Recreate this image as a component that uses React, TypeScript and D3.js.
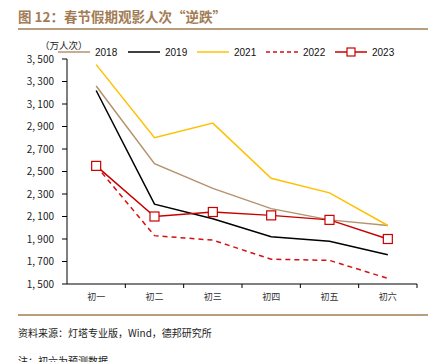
import * as React from 'react';
import * as d3 from 'd3';

const categories = ['初一', '初二', '初三', '初四', '初五', '初六'];
const years = ['2018', '2019', '2021', '2022', '2023'];
const v2018 = [3260, 2570, 2350, 2170, 2070, 2020];
const v2019 = [3220, 2210, 2080, 1920, 1880, 1760];
const v2021 = [3450, 2800, 2930, 2440, 2310, 2020];
const v2022 = [2550, 1930, 1890, 1720, 1710, 1550];
const v2023 = [2550, 2100, 2140, 2110, 2070, 1900];
const yTicks = [1500, 1700, 1900, 2100, 2300, 2500, 2700, 2900, 3100, 3300, 3500];

const seriesValues = [v2018, v2019, v2021, v2022, v2023];
const colors = ['#b4926c', '#000000', '#ffc000', '#d41010', '#c80000'];

const W = 438;
const H = 362;
const FONT = '"Noto Sans CJK SC", "Noto Sans", sans-serif';

const App: React.FC = () => {
  const x = d3.scaleBand().domain(categories).range([67, 417]);
  const y = d3.scaleLinear().domain([1500, 3500]).range([284, 59]);
  const cx = (c: string) => x(c)! + x.bandwidth() / 2;

  const line = d3.line<number>()
    .x((_, i) => cx(categories[i]))
    .y(d => y(d));

  const legendX = [58, 128, 197, 266, 335];

  return (
    <svg width={W} height={H} style={{ position: 'absolute', left: 0, top: 0, background: '#fff' }} fontFamily={FONT}>
      <text x={18} y={22} fontSize={13.5} fontWeight="bold" fill="#a27c55">图 12：春节假期观影人次“逆跌”</text>
      <line x1={18} x2={428} y1={29} y2={29} stroke="#a27c55" strokeWidth={1.5} />

      <text x={40} y={49} fontSize={9.5} fill="#222">（万人次）</text>

      {/* legend */}
      {years.map((yr, i) => (
        <g key={yr}>
          <line x1={legendX[i]} x2={legendX[i] + 32} y1={52} y2={52}
            stroke={colors[i]} strokeWidth={1.5}
            strokeDasharray={i === 3 ? '4,3' : undefined} />
          {i === 4 && <rect x={legendX[i] + 12} y={48} width={8} height={8} fill="#fff" stroke={colors[i]} strokeWidth={1.2} />}
          <text x={legendX[i] + 37} y={56} fontSize={10} fill="#111" fontFamily="Arial, 'Liberation Sans', sans-serif">{yr}</text>
        </g>
      ))}

      {/* y axis */}
      <line x1={67} x2={67} y1={y(3500)} y2={y(1500)} stroke="#000" strokeWidth={1} />
      {yTicks.map(t => (
        <g key={t}>
          <line x1={62} x2={67} y1={y(t)} y2={y(t)} stroke="#000" />
          <text x={54} y={y(t)} dy="0.35em" textAnchor="end" fontSize={10} fill="#222">{d3.format(',')(t).replace(',', ', ')}</text>
        </g>
      ))}

      {/* x axis */}
      <line x1={67} x2={417} y1={284} y2={284} stroke="#000" strokeWidth={1} />
      {categories.map(c => (
        <g key={c}>
          <line x1={x(c)! + x.bandwidth()} x2={x(c)! + x.bandwidth()} y1={284} y2={288} stroke="#000" />
          <text x={cx(c)} y={300} textAnchor="middle" fontSize={9} fill="#333">{c}</text>
        </g>
      ))}

      {/* series */}
      {seriesValues.map((vals, i) => (
        <path key={years[i]} d={line(vals)!} fill="none" stroke={colors[i]} strokeWidth={1.5}
          strokeDasharray={i === 3 ? '5,4' : undefined} />
      ))}
      {v2023.map((v, i) => (
        <rect key={i} x={cx(categories[i]) - 4.5} y={y(v) - 4.5} width={9} height={9}
          fill="#fff" stroke={colors[4]} strokeWidth={1.2} />
      ))}

      <line x1={18} x2={428} y1={315} y2={315} stroke="#a27c55" strokeWidth={1.5} />
      <text x={18} y={337} fontSize={10} fill="#222">资料来源：灯塔专业版，Wind，德邦研究所</text>
      <text x={18} y={365} fontSize={10} fill="#222">注：初六为预测数据</text>
    </svg>
  );
};

export default App;
